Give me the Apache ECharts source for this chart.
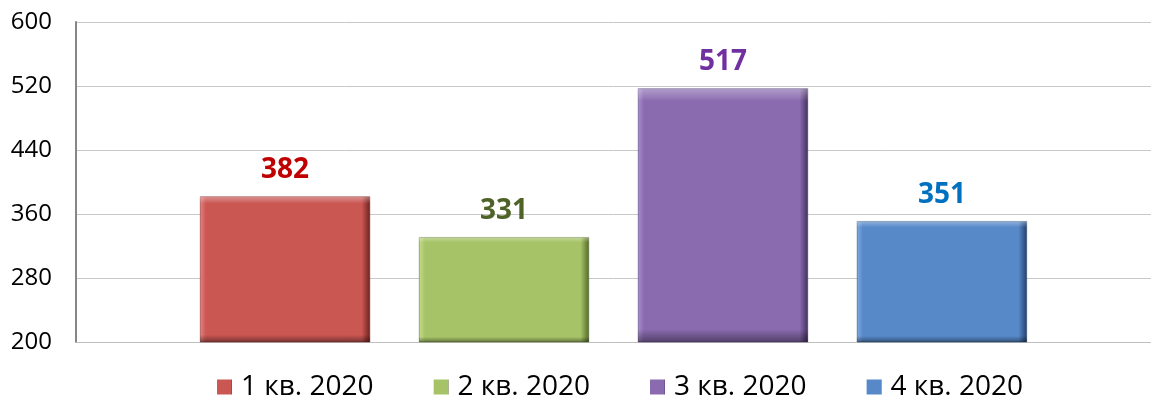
<!DOCTYPE html>
<html>
<head>
<meta charset="utf-8">
<script src="https://cdn.jsdelivr.net/npm/echarts@6/dist/echarts.min.js"></script>
<style>
  html, body { margin: 0; padding: 0; background: #fff; }
  #chart { width: 1151px; height: 403px; }
</style>
</head>
<body>
<div id="chart"></div>
<script>
// data
const quarters = ['1 кв. 2020', '2 кв. 2020', '3 кв. 2020', '4 кв. 2020']
const values = [382, 331, 517, 351]
const barColors = ['#CB5753', '#A6C467', '#8A6BB0', '#5789C9']
const edgeLight = ['#E8807C', '#C4DC8C', '#AA8DD0', '#7FAAE0']
const edgeDark = ['#6E2220', '#55692A', '#433060', '#23406A']
const labelColors = ['#C00000', '#4F6228', '#7030A0', '#0070C0']

const chart = echarts.init(document.getElementById('chart'))

const BAR_W = 170
const BAR_GAP = '28.8%'

// main bars (horizontal bevel via gradient)
const series = quarters.map((name, i) => ({
  name: name,
  type: 'bar',
  barWidth: BAR_W,
  barGap: BAR_GAP,
  z: 2,
  data: [values[i]],
  itemStyle: {
    color: new echarts.graphic.LinearGradient(0, 0, 1, 0, [
      { offset: 0, color: edgeLight[i] },
      { offset: 0.035, color: barColors[i] },
      { offset: 0.95, color: barColors[i] },
      { offset: 1, color: edgeDark[i] }
    ]),
    borderColor: edgeDark[i],
    borderWidth: 0.5
  },
  label: {
    show: true,
    position: 'top',
    distance: 12,
    color: labelColors[i],
    fontSize: 28,
    fontWeight: 'bold',
    fontFamily: 'Open Sans'
  }
}))

// overlay bars on a twin axis for the top/bottom bevel
quarters.forEach((name, i) => {
  series.push({
    type: 'bar',
    xAxisIndex: 1,
    barWidth: BAR_W,
    barGap: BAR_GAP,
    z: 3,
    silent: true,
    data: [values[i]],
    itemStyle: {
      color: new echarts.graphic.LinearGradient(0, 0, 0, 1, [
        { offset: 0, color: 'rgba(255,255,255,0.35)' },
        { offset: 0.05, color: 'rgba(255,255,255,0)' },
        { offset: 0.95, color: 'rgba(0,0,0,0)' },
        { offset: 1, color: 'rgba(0,0,0,0.4)' }
      ])
    }
  })
})

chart.setOption({
  animation: false,
  color: barColors,
  grid: { left: 76, right: -4, top: 22, bottom: 61 },
  legend: {
    bottom: -3,
    left: 212,
    itemWidth: 15,
    itemHeight: 15,
    itemGap: 60,
    icon: 'rect',
    itemStyle: { borderWidth: 0 },
    textStyle: { fontSize: 28, color: '#000', fontFamily: 'Open Sans', padding: [0, 0, 0, 4] },
    data: quarters
  },
  xAxis: [{
    type: 'category',
    data: [''],
    axisLine: { show: true, lineStyle: { color: '#BFBFBF' } },
    axisTick: { show: false },
    axisLabel: { show: false }
  }, {
    type: 'category',
    data: [''],
    show: false
  }],
  yAxis: {
    type: 'value',
    min: 200,
    max: 600,
    interval: 80,
    axisLine: { show: true, lineStyle: { color: '#868686', width: 2 } },
    axisTick: { show: false },
    axisLabel: { fontSize: 24, color: '#000', margin: 24, fontFamily: 'Open Sans' },
    splitLine: { lineStyle: { color: '#C8C8C8' } }
  },
  series: series
})
</script>
</body>
</html>
